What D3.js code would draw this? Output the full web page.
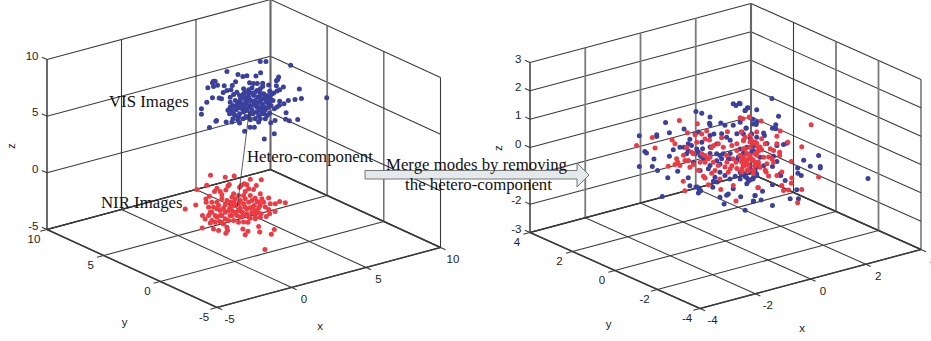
<!DOCTYPE html>
<html>
<head>
<meta charset="utf-8">
<style>
  html, body { margin: 0; padding: 0; background: #fff; overflow: hidden; }
  svg { display: block; }
  .tick { font-family: "Liberation Sans", sans-serif; font-size: 11.5px; fill: #222; }
  .note { font-family: "Liberation Serif", serif; font-size: 16.8px; fill: #111; }
</style>
</head>
<body>
<div id="chart"></div>
<script src="https://cdn.jsdelivr.net/npm/d3@7"></script>
<script>
// values read off the picture. depth along y can't be read from a flat plot,
// so each cloud sits on one y value
var leftXTicks = [-5, 0, 5, 10];
var leftYTicks = [-5, 0, 5, 10];
var leftZTicks = [-5, 0, 5, 10];
var rightXTicks = [-4, -2, 0, 2, 4];
var rightYTicks = [-4, -2, 0, 2, 4];
var rightZTicks = [-3, -2, -1, 0, 1, 2, 3];

var leftCloudY = 2.5;
var rightCloudY = 0;

var visX = [3.61,3.99,5.65,1.37,2.11,2.44,2.71,3.32,3.63,4.84,4.78,4.69,.47,.58,.40,.74,.09,.47,1.19,1.73,1.95,2.89,3.16,3.41,3.77,3.77,4.17,4.69,5.16,6.23,1.12,1.37,1.64,.40,.85,1.01,.02,-.34,-.34,.67,.63,.20,1.32,1.71,2.22,2.56,2.92,3.21,3.50,4.31,4.60,5.31,5.56,6.12,5.34,4.91,4.89,5.20,5.49,5.94,6.37,8.07,4.55,3.88,
  1.59,1.82,2.04,2.49,2.60,2.22,2.83,3.05,3.39,3.61,3.84,4.10,4.40,4.73,4.91,4.51,4.24,1.59,1.44,1.55,1.77,1.93,2.09,2.27,2.44,2.62,2.83,2.98,3.16,3.43,3.61,3.84,4.01,4.24,4.33,4.10,1.71,1.93,1.77,2.09,2.22,2.40,2.53,2.71,2.85,2.94,2.65,2.44,3.05,3.21,3.43,3.57,3.72,3.50,3.27,3.61,3.88,4.06,3.84,4.24,4.55,4.73,2.94,2.22,2.00,2.71,3.34,3.72,4.10,2.83,
  1.88,2.15,2.49,2.71,3.05,3.27,3.61,3.95,4.17,3.95,3.72,3.39,3.12,2.83,2.49,2.15,1.82,1.59,2.38,2.94,3.27,3.61,4.28,4.46,3.50,2.60,2.04,3.95,2.83,3.16];
var visZ = [10.23,10.10,9.17,10.14,9.61,9.32,9.28,9.05,9.23,8.42,8.23,8.15,9.59,9.55,9.48,9.15,9.15,9.12,8.93,8.77,9.03,8.61,8.45,8.36,8.24,7.97,7.95,7.71,7.42,6.87,8.37,8.46,8.43,8.15,7.99,7.86,7.90,7.44,6.97,6.05,6.01,5.61,5.69,5.55,5.28,4.45,4.66,4.56,4.92,4.58,4.68,4.52,4.31,4.23,5.10,6.25,5.91,5.94,6.13,6.04,5.98,5.46,3.52,3.29,
  7.79,7.95,8.07,8.22,7.88,7.72,8.01,8.11,7.75,7.44,7.30,7.06,7.11,7.22,7.28,7.13,7.39,6.91,6.68,6.34,7.00,7.38,7.03,7.33,7.49,7.14,7.36,7.01,7.39,7.15,6.79,6.86,6.50,6.57,6.10,5.97,6.58,6.05,5.82,5.62,6.10,6.48,6.73,6.23,6.47,5.85,5.72,5.58,6.16,6.50,6.62,6.16,5.87,5.50,5.29,5.17,5.52,5.31,6.18,5.45,5.72,5.81,5.32,6.63,6.53,6.81,5.86,6.45,6.77,7.72,
  6.87,7.15,7.78,7.40,7.64,6.91,7.08,6.97,6.30,5.85,5.57,6.28,5.79,7.07,6.16,5.83,6.24,7.35,6.93,6.59,7.64,7.82,6.85,6.49,5.95,6.41,6.90,5.06,5.60,6.80];

var nirX = [.27,1.26,1.86,2.94,3.68,-.65,.02,1.53,1.44,1.30,.70,.92,.54,.20,-.72,-1.43,-.04,-.02,2.33,2.53,2.71,2.83,2.22,3.16,3.34,3.61,2.60,2.94,2.49,3.27,3.72,4.17,4.91,5.29,4.62,4.60,4.24,4.01,3.45,3.61,3.27,2.94,2.78,2.44,2.78,2.60,3.57,3.50,4.35,4.55,3.92,-.29,-.27,.25,.36,.47,.81,.88,1.37,1.41,1.30,.58,1.03,1.14,.70,1.03,1.37,1.71,1.93,2.15,1.71,1.48,1.93,2.27,2.60,2.89,3.21,3.61,3.95,4.28,3.84,3.39,3.05,2.49,2.71,2.27,1.82,1.59,1.26,.92,.47,.14,.58,2.15,2.49,.14,.81,1.26,1.59,1.82,1.03,.36,2.15,2.83,3.50,3.27,3.66,4.17,1.71,-.09,.25,
  .70,.92,1.26,1.59,1.93,2.27,2.60,3.05,3.50,2.71,3.05,2.04,1.48,1.03,.70,.36,2.38,2.83,3.27,1.71,1.14,2.49,1.82,2.15];
var nirZ = [1.37,.85,.73,.08,-.23,.43,.57,.10,0,-.29,.08,-.29,-.16,-.46,-.90,-1.00,-.61,-.91,-.26,-.19,-.34,-.73,-.37,-.91,-.61,-1.45,-.88,-1.36,-1.20,-1.71,-1.93,-2.02,-2.58,-2.83,-2.68,-3.35,-3.43,-3.59,-3.01,-3.51,-3.54,-3.36,-3.66,-4.13,-4.45,-4.71,-4.81,-4.29,-5.27,-4.93,-6.47,-3.08,-2.00,-1.89,-2.66,-3.44,-3.70,-2.93,-3.60,-3.92,-4.11,-2.30,-2.45,-1.84,-1.16,-.98,-1.25,-1.07,-1.30,-1.82,-1.81,-2.17,-2.48,-2.23,-2.27,-2.45,-2.33,-2.48,-2.74,-2.56,-2.27,-2.05,-2.87,-2.96,-2.89,-3.03,-3.17,-2.65,-2.83,-1.97,-1.53,-2.14,-2.89,-3.44,-3.55,-1.41,-1.49,-1.59,-1.48,-.82,-.63,-1.05,-1.09,-1.91,-2.67,-2.80,-3.22,-3.02,-2.25,-2.36,-2.83,
  -1.74,-2.41,-2.24,-1.92,-1.89,-1.56,-1.53,-1.84,-2.15,-2.45,-2.43,-2.81,-3.05,-3.04,-2.48,-1.93,-2.63,-3.23,-3.18,-2.69,-3.23,-1.93,-1.56,-2.41];

var mergedBlueX = [-3.12,-2.49,-2.49,-2.17,-2.03,-1.50,-.86,-1.07,-2.92,-2.86,-2.59,-3.12,-2.65,-2.46,-2.09,-1.35,-1.73,-2.29,-1.29,-1.07,-.95,-.90,-.98,-1.02,-.46,-.20,.04,.10,.28,-.05,.71,1.07,1.01,.28,.38,.50,.71,.79,-.56,-.58,-.56,-.17,-.02,.28,.53,.74,1.01,1.13,-1.50,-1.29,-1.10,-.98,-.56,-.42,-.14,.04,.41,.59,-1.89,-2.03,-1.65,-1.35,-1.23,-.86,-.83,-.98,-1.10,-1.41,-.32,-.20,-.08,.10,-.56,.53,.77,1.01,-.32,-.56,-.62,-.92,-.20,-.38,-.30,-.44,.16,.35,.71,.77,.53,1.07,.89,.77,1.13,.16,.47,-.20,-.80,-1.16,-.02,1.01,
  1.68,.81,.71,1.13,1.92,1.82,1.70,1.82,1.11,.75,.99,.53,1.38,1.41,1.13,.89,1.50,1.86,2.10,2.22,1.01,.65,1.74,2.83,3.37,3.07,3.43,3.43,2.61,2.62,2.74,1.98,2.00,2.16,1.70,1.34,1.07,1.01,1.29,1.70,2.34,2.64,2.58,.55,.83,.99,1.13,.71,.57,.89,1.07,1.70,1.86,1.25,.77,.95,.65,1.38,
  -1.35,-1.04,-.92,-.56,.17,.41,.65,.89,1.13,.77,.53,-.32,.17,.65,.95,-.14];
var mergedBlueZ = [1.53,1.40,1.34,1.75,1.35,1.34,1.73,1.85,.92,.85,.57,.44,.32,.13,-.22,-.42,-.09,-.83,-.71,-.82,-.94,-.99,-1.05,-.83,-.98,-1.40,-1.40,-1.37,-1.23,-1.68,-2.10,-1.67,-1.85,1.77,1.68,1.73,1.42,1.49,1.52,1.31,1.25,1.21,1.09,1.01,1.05,.79,.87,.90,.70,.93,1.07,1.10,.87,.89,.82,.65,.68,.69,.71,.52,.74,.78,.69,.71,.47,.39,.37,.45,.16,.07,.10,-.13,.46,.11,-.12,-.07,-.08,-.19,-.29,-.27,-.52,-.65,-.84,-.78,-.85,-.81,-.81,-.97,-.71,-.79,-1.07,-.42,-.68,-.14,-.16,-.23,.11,.08,-.68,-1.03,
  1.59,1.49,1.42,1.34,.90,.63,.54,.49,.82,.79,1.04,1.71,.45,.36,.37,.41,.05,-.11,-.14,-.13,.11,-.07,-.46,-.89,-.86,-1.16,-1.26,-1.32,-1.10,-1.29,-1.40,-1.15,-1.21,-1.43,-1.46,-1.59,-1.67,-1.86,-1.89,-2.19,-2.12,-2.20,-1.86,-1.58,-1.11,-1.07,-.93,-.91,-.78,-.57,-.67,-.81,-.68,-.37,.11,-.11,-.39,-.70,
  .54,.52,.26,.23,.04,-.26,-.51,-.74,-.98,-1.18,-.95,.51,.51,.61,.53,-.06];
// the one far blue point right of the cloud, nearer the viewer in y
var mergedFarPoint = [3.62, -2, -1.07];

var mergedRedX = [-3.22,-2.65,-2.55,-1.67,-1.02,-1.38,-1.10,-.68,-1.93,-1.83,-.74,-.58,-.26,.07,.53,.86,-.14,-1.41,-1.23,-.52,-2.07,-1.77,-1.73,-1.83,-1.47,-1.53,-1.47,-.80,-.74,-.62,-.50,-.17,.38,.28,1.17,-1.29,-1.16,-.92,-.74,-.98,-.38,-.02,.10,.23,.41,.65,.89,1.07,1.19,.38,.59,.83,1.01,1.19,.71,.53,.77,1.01,-.08,.23,-.44,.04,.28,1.13,-.74,-1.04,-.62,-.20,.41,
  3.10,2.76,2.38,3.37,1.98,1.29,.87,.63,.57,.89,.71,1.86,2.26,1.86,1.62,1.96,1.96,1.74,1.50,1.38,1.19,1.31,1.01,1.13,.77,.59,.77,.95,1.07,2.40,2.38,2.04,2.28,2.10,2.76,2.61,1.19,1.47,1.56,.59,.83,1.01,1.44,1.86,2.04,.65,.53,1.19,1.68,
  .65,.89,1.07,1.25,.83,.67,1.25,.95,1.44,1.74,1.56,1.13,1.31,.05,.17,-.26,-.56,-.86,-1.16,-1.52,-1.65,-1.34,.59,.89,.71,1.07,.41,.65,-.44,-.86];
var mergedRedZ = [1.21,1.34,.95,1.69,1.40,1.18,1.04,1.06,1.07,.91,.79,.72,.50,.84,1.21,1.15,.68,.68,.45,.43,.18,.36,.23,.18,.22,-.49,-.84,-.51,-.58,-.85,-.48,-1.14,-1.69,-1.11,-1.42,-.06,0,.02,.21,-.25,-.41,-.38,-.60,-.40,.09,-.21,.26,.21,0,-.32,-.37,-.55,-.42,-.59,.07,-.12,-.71,-.89,.33,.31,-.11,.01,-.17,-.27,-.03,.76,.06,-.76,-.55,
  .30,-.39,-.81,-1.62,.37,.90,1.13,1.15,.70,.50,.48,.21,-.10,-.05,-.17,-.38,-.49,-.67,-.66,-.40,-.14,-.12,.19,.16,-.12,-.31,-.42,-.35,-.50,-1.40,-1.58,-1.57,-1.79,-1.76,-1.90,-2.33,-1.43,-.95,-1.11,-.72,-.72,-.77,-.88,-1.17,-1.10,.09,-.12,-.52,-.53,
  .38,.08,-.20,-.01,-.31,-.51,-.72,.30,.06,-.26,-.44,.55,.27,-.23,-.49,-.27,.11,.30,.38,.42,.09,.19,-.60,-.21,-.34,-.62,.33,.38,.48,1.0];

// line joining the centres of the two clouds, left plot
var heteroX = [2.87, 2.06];
var heteroZ = [6.17, -2.11];

var blue = "#3b409c", red = "#ee3a42", gridColor = "#3a3a3a", softColor = "#7a7a7a";

var svg = d3.select("#chart")
  .append("svg")
  .attr("width", 931)
  .attr("height", 341);

// box = screen corners of the floor + wall height. returns the 3d -> screen mapping
function makeProjection(xTicks, yTicks, zTicks, box) {
  var fx = d3.scaleLinear().domain(d3.extent(xTicks)).range([0, 1]);
  var fy = d3.scaleLinear().domain(d3.extent(yTicks)).range([0, 1]);
  var fz = d3.scaleLinear().domain(d3.extent(zTicks)).range([0, box.height]);
  return function(x, y, z) {
    return [
      box.front[0] + fx(x) * (box.right[0] - box.front[0]) + fy(y) * (box.left[0] - box.front[0]),
      box.front[1] + fx(x) * (box.right[1] - box.front[1]) + fy(y) * (box.left[1] - box.front[1]) - fz(z)
    ];
  };
}

function drawBox(g, p, xTicks, yTicks, zTicks, opt) {
  var x0 = d3.min(xTicks), x1 = d3.max(xTicks);
  var y0 = d3.min(yTicks), y1 = d3.max(yTicks);
  var z0 = d3.min(zTicks), z1 = d3.max(zTicks);
  var tx = (x1 - x0) * 0.03, ty = (y1 - y0) * 0.03;

  function seg(a, b, w, color) {
    g.append("line")
      .attr("x1", a[0]).attr("y1", a[1])
      .attr("x2", b[0]).attr("y2", b[1])
      .attr("stroke", color || gridColor)
      .attr("stroke-width", w || 1.05);
  }

  // walls
  zTicks.forEach(function(z) {
    seg(p(x0, y1 + ty, z), p(x0, y1, z));
    seg(p(x0, y1, z), p(x1, y1, z));
    seg(p(x1, y1, z), p(x1, y0, z));
  });
  xTicks.forEach(function(x) {
    if (x == x1) seg(p(x, y1, z0), p(x, y1, z1), 2.1, "#666");
    else if (x == x0) seg(p(x, y1, z0), p(x, y1, z1), 1.5);
    else if (opt.softX.indexOf(x) >= 0) seg(p(x, y1, z0), p(x, y1, z1), 1.8, softColor);
    else seg(p(x, y1, z0), p(x, y1, z1), 1.1);
  });
  yTicks.slice(0, -1).forEach(function(y) {
    if (opt.softY.indexOf(y) >= 0) seg(p(x1, y, z0), p(x1, y, z1), 1.8, softColor);
    else seg(p(x1, y, z0), p(x1, y, z1), 1.1);
  });

  // floor
  xTicks.forEach(function(x) { seg(p(x, y0 - ty, z0), p(x, y1, z0)); });
  yTicks.forEach(function(y) { seg(p(x0 - tx, y, z0), p(x1, y, z0)); });
  seg(p(x0, y0, z0), p(x0, y1, z0), 1.5);
  seg(p(x0, y0, z0), p(x1, y0, z0), 1.5);
  seg(p(x1, y0, z0), p(x1, y1, z0), 1.5);
  seg(p(x0, y1, z0), p(x1, y1, z0), 1.4);

  // tick labels
  zTicks.forEach(function(z) {
    var s = p(x0, y1, z);
    g.append("text").attr("class", "tick")
      .attr("x", s[0] - 8.5).attr("y", s[1] - 4).attr("dy", "0.36em")
      .attr("text-anchor", "end").text(z);
  });
  yTicks.forEach(function(y) {
    var s = p(x0, y, z0);
    g.append("text").attr("class", "tick")
      .attr("x", s[0] - 13).attr("y", s[1] + 9.5).attr("dy", "0.36em")
      .attr("text-anchor", "middle").text(y);
  });
  xTicks.forEach(function(x) {
    var s = p(x, y0, z0);
    g.append("text").attr("class", "tick")
      .attr("x", s[0] + 12.5).attr("y", s[1] + 11.5).attr("dy", "0.36em")
      .attr("text-anchor", "middle").text(x);
  });

  // axis titles
  g.append("text").attr("class", "tick").attr("text-anchor", "middle").attr("dy", "0.3em")
    .attr("transform", "translate(" + opt.zTitle + ") rotate(-90)").text("z");
  g.append("text").attr("class", "tick").attr("text-anchor", "middle").attr("dy", "0.3em")
    .attr("x", opt.yTitle[0]).attr("y", opt.yTitle[1]).text("y");
  g.append("text").attr("class", "tick").attr("text-anchor", "middle").attr("dy", "0.3em")
    .attr("x", opt.xTitle[0]).attr("y", opt.xTitle[1]).text("x");
}

function drawCloud(g, p, xs, ys, zs, color) {
  var pts = xs.map(function(x, i) { return p(x, ys, zs[i]); });
  g.append("g").selectAll("circle")
    .data(pts)
    .enter()
    .append("circle")
    .attr("cx", function(d) { return d[0]; })
    .attr("cy", function(d) { return d[1]; })
    .attr("r", 2.5)
    .attr("fill", color);
}

// left plot
var leftP = makeProjection(leftXTicks, leftYTicks, leftZTicks, {
  front: [217, 307.5], right: [440.5, 247.5], left: [47, 229.5], height: 170
});
var leftG = svg.append("g");
drawBox(leftG, leftP, leftXTicks, leftYTicks, leftZTicks, {
  zTitle: [12, 146], yTitle: [124.5, 323], xTitle: [320, 327], softX: [], softY: [5]
});
drawCloud(leftG, leftP, visX, leftCloudY, visZ, blue);
drawCloud(leftG, leftP, nirX, leftCloudY, nirZ, red);

var hA = leftP(heteroX[0], leftCloudY, heteroZ[0]);
var hB = leftP(heteroX[1], leftCloudY, heteroZ[1]);
leftG.append("line")
  .attr("x1", hA[0]).attr("y1", hA[1])
  .attr("x2", hB[0]).attr("y2", hB[1])
  .attr("stroke", "#333")
  .attr("stroke-width", 0.8);

// right plot
var rightP = makeProjection(rightXTicks, rightYTicks, rightZTicks, {
  front: [700, 308.5], right: [921, 249.5], left: [530, 232.5], height: 170
});
var rightG = svg.append("g");
drawBox(rightG, rightP, rightXTicks, rightYTicks, rightZTicks, {
  zTitle: [499, 148], yTitle: [608.5, 325], xTitle: [802, 329], softX: [-2, 0, 2], softY: [0, -2]
});
drawCloud(rightG, rightP, mergedBlueX, rightCloudY, mergedBlueZ, blue);
drawCloud(rightG, rightP, [mergedFarPoint[0]], mergedFarPoint[1], [mergedFarPoint[2]], blue);
drawCloud(rightG, rightP, mergedRedX, rightCloudY, mergedRedZ, red);

// arrow + annotations
svg.append("path")
  .attr("d", "M365,170.5 H577 V163 L589,175 L577,187 V179 H365 Z")
  .attr("fill", "#e4eaec")
  .attr("stroke", "#777")
  .attr("stroke-width", 1);

var notes = [
  { text: "VIS Images", x: 109, y: 107, anchor: "start" },
  { text: "NIR Images", x: 101, y: 208, anchor: "start" },
  { text: "Hetero-component", x: 247, y: 162, anchor: "start" },
  { text: "Merge modes by removing", x: 476.5, y: 170, anchor: "middle" },
  { text: "the hetero-component", x: 478.5, y: 190, anchor: "middle" }
];
svg.append("g").selectAll("text")
  .data(notes)
  .enter()
  .append("text")
  .attr("class", "note")
  .attr("x", function(d) { return d.x; })
  .attr("y", function(d) { return d.y; })
  .attr("text-anchor", function(d) { return d.anchor; })
  .text(function(d) { return d.text; });
</script>
</body>
</html>
